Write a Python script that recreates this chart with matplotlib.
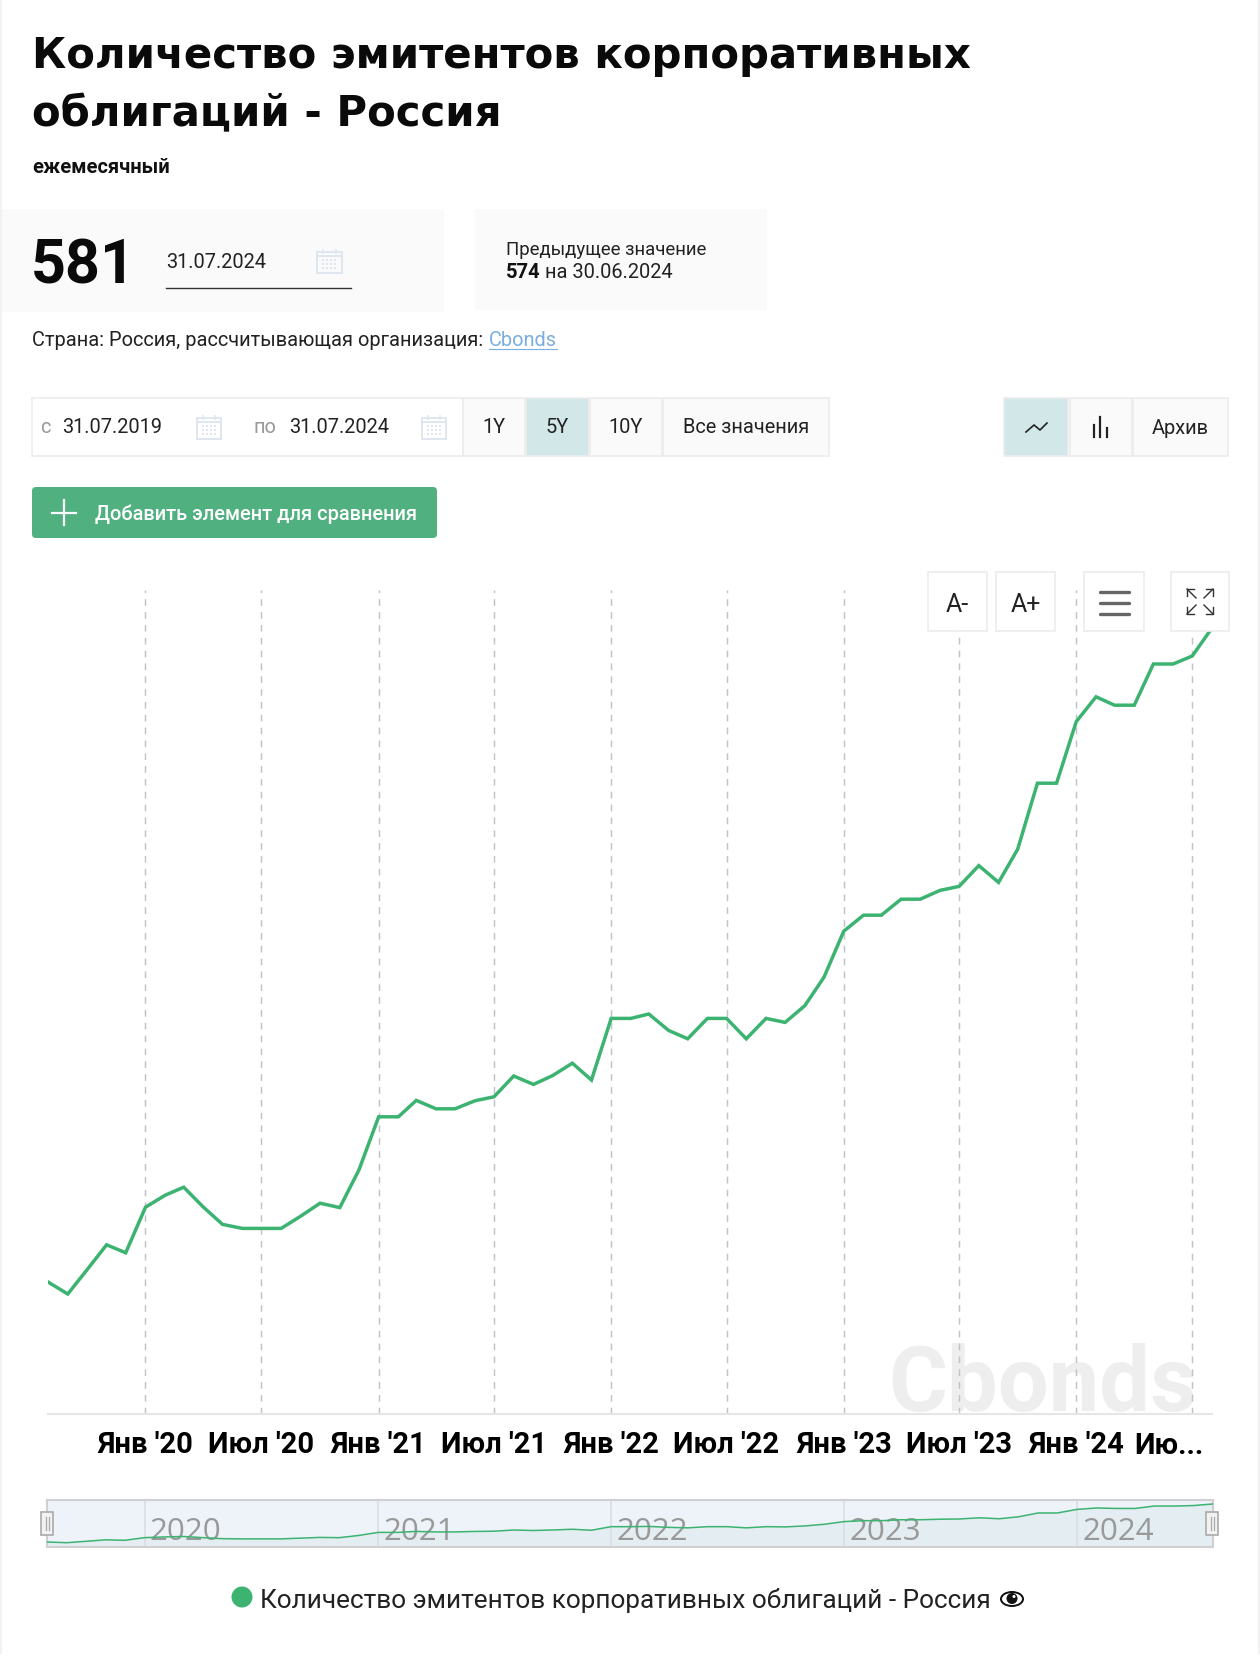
import pandas as pd
import matplotlib
matplotlib.use('Agg')
import matplotlib.pyplot as plt
from matplotlib.patches import Rectangle, FancyBboxPatch, Circle, Ellipse

W, H = 1260, 1673
FONT = 'Roboto'
GREEN = '#3cb371'
BORDER = '#ececec'
PANEL = '#fafafa'
TEAL = '#d2e8e8'

TITLE_LINES = ['Количество эмитентов корпоративных', 'облигаций - Россия']
SERIES_NAME = 'Количество эмитентов корпоративных облигаций - Россия'

# month-end readings, Jul 2019 .. Jul 2024
dates = pd.date_range('2019-07-31', periods=61, freq='ME')
issuers = [417.5, 414.5, 420.5, 426.8, 424.8, 436.2, 439.2, 441.2, 436.2, 431.9,
           430.9, 430.9, 430.9, 434.0, 437.2, 436.1, 445.5, 458.8, 458.8, 462.9,
           460.8, 460.8, 462.8, 463.8, 469.0, 466.9, 469.1, 472.2, 468.0, 483.4,
           483.4, 484.5, 480.4, 478.3, 483.4, 483.4, 478.3, 483.4, 482.4, 486.6,
           493.7, 505.2, 509.2, 509.2, 513.2, 513.2, 515.4, 516.4, 521.6, 517.4,
           525.7, 542.2, 542.2, 557.6, 563.8, 561.7, 561.7, 572.0, 572.0, 574.0,
           581.0]

# the ticks sit on the month-end points just before each label's month
tick_dates = pd.to_datetime(['2019-12-31', '2020-06-30', '2020-12-31', '2021-06-30', '2021-12-31',
                             '2022-06-30', '2022-12-31', '2023-06-30', '2023-12-31', '2024-06-30'])
tick_labels = ["Янв '20", "Июл '20", "Янв '21", "Июл '21", "Янв '22",
               "Июл '22", "Янв '23", "Июл '23", "Янв '24", "Ию..."]
nav_dates = pd.to_datetime(['2019-12-31', '2020-12-31', '2021-12-31', '2022-12-31', '2023-12-31'])
nav_labels = ['2020', '2021', '2022', '2023', '2024']

plt.rcParams['font.family'] = FONT


def axes_px(fig, x0, y0, x1, y1, **kw):
    return fig.add_axes([x0 / W, 1 - y1 / H, (x1 - x0) / W, (y1 - y0) / H], **kw)


def button(ax, x0, y0, x1, y1, fill=PANEL, edge=BORDER, label=None, size=14.4, color='#222222', dy=-2, family=FONT):
    ax.add_patch(Rectangle((x0, y0), x1 - x0, y1 - y0, fc=fill, ec=edge, lw=1.2))
    if label:
        ax.text((x0 + x1) / 2, (y0 + y1) / 2 + dy, label, ha='center', va='center_baseline',
                fontsize=size, color=color, family=family)


def calendar(ax, x0, y0, x1, y1):
    col = '#dfe6ef'
    ax.add_patch(Rectangle((x0, y0 + 2), x1 - x0, y1 - y0 - 2, fc='none', ec=col, lw=1.4))
    ax.plot([x0, x1], [y0 + 6, y0 + 6], color=col, lw=1.4)
    for k in (0.25, 0.75):
        ax.plot([x0 + k * (x1 - x0)] * 2, [y0, y0 + 3], color=col, lw=1.2)
    for i in range(4):
        for j in range(3):
            ax.add_patch(Rectangle((x0 + 5 + i * 4, y0 + 9 + j * 4), 2.4, 2.4, fc=col, ec='none'))


def main():
    fig = plt.figure(figsize=(W / 100, H / 100), dpi=100, facecolor='white')

    # main chart
    ax = axes_px(fig, 48, 590, 1212, 1414)
    ax.set_xlim(dates[0], dates[-1])
    ax.set_ylim(384.5, 590.5)
    ax.annotate('Cbonds', xy=(1197, H - 1411), xycoords='figure pixels', ha='right', va='baseline',
                fontsize=65, fontweight='bold', color='#eeeeee', zorder=1)
    for d in tick_dates:
        ax.axvline(d, color='#c2c2ca', lw=1.05, dashes=(4.6, 4.2), zorder=2)
    ax.plot(dates, issuers, color=GREEN, lw=2.5, zorder=3, solid_joinstyle='miter')
    for s in ('top', 'left', 'right'):
        ax.spines[s].set_visible(False)
    ax.spines['bottom'].set_color('#e6e6e6')
    ax.spines['bottom'].set_linewidth(1.5)
    ax.set_yticks([])
    ax.set_xticks(tick_dates[:-1])
    ax.set_xticklabels(tick_labels[:-1], fontsize=21, fontweight='bold', color='black')
    ax.tick_params(axis='x', length=0, pad=12)
    ax.annotate(tick_labels[-1], xy=(1204, H - 1454), xycoords='figure pixels', ha='right', va='baseline',
                fontsize=21, fontweight='bold', color='black', annotation_clip=False)

    # navigator
    nav = axes_px(fig, 47, 1500, 1213, 1547, facecolor='#eef2f9')
    nav.set_xlim(dates[0], dates[-1])
    nav.set_ylim(396, 598)
    nav.fill_between(dates, issuers, 396, color='#e4edf2', lw=0, zorder=1)
    for d, lab in zip(nav_dates, nav_labels):
        nav.axvline(d, color='#d8dde2', lw=1.1, zorder=2)
        nav.annotate(lab, xy=(d, 396), xytext=(3.8, 4.8), textcoords='offset points', ha='left', va='baseline',
                     fontsize=22.5, color='#999999', family='Open Sans', zorder=2)
    nav.plot(dates, issuers, color=GREEN, lw=1.1, zorder=3)
    nav.set_xticks([])
    nav.set_yticks([])
    for s in nav.spines.values():
        s.set_color('#d0d0d0')
        s.set_linewidth(1.5)

    # page furniture, in reference pixels
    ui = axes_px(fig, 0, 0, W, H, facecolor='none', zorder=5)
    ui.set_xlim(0, W)
    ui.set_ylim(H, 0)
    ui.axis('off')

    ui.plot([1, 1], [0, 1653], color='#f2f2f2', lw=1.5)
    ui.plot([1259, 1259], [0, 1653], color='#f2f2f2', lw=1.5)

    ui.text(32, 68, TITLE_LINES[0], fontsize=30.2, fontweight='bold', family='DejaVu Sans', color='#0a0a0a')
    ui.text(32, 126, TITLE_LINES[1], fontsize=30.2, fontweight='bold', family='DejaVu Sans', color='#0a0a0a')
    ui.text(32, 173, 'ежемесячный', fontsize=14.5, fontweight='bold', color='#111111')

    # current value panel
    ui.add_patch(Rectangle((0, 209), 444, 103, fc=PANEL, ec='none'))
    ui.add_patch(Rectangle((475, 209), 292, 101, fc=PANEL, ec='none'))
    ui.text(31, 283, '581', fontsize=44, fontweight='bold', color='#0a0a0a')
    ui.text(166, 268, '31.07.2024', fontsize=14.4, color='#222222')
    ui.plot([166, 351], [287.5, 287.5], color='#333333', lw=1)
    calendar(ui, 317, 250, 342, 273)
    ui.text(506, 254.5, 'Предыдущее значение', fontsize=13.4, color='#222222')
    ui.text(506, 278, '574', fontsize=14.5, fontweight='bold', color='#111111')
    ui.text(545, 278, 'на 30.06.2024', fontsize=14.4, color='#222222')

    ui.text(32, 346, 'Страна: Россия, рассчитывающая организация:', fontsize=14.4, color='#222222')
    ui.text(489, 346, 'Cbonds', fontsize=14.4, color='#7aaee0')
    ui.plot([489, 557], [349, 349], color='#7aaee0', lw=0.8)

    # period controls
    button(ui, 32, 398, 463, 456, fill='white')
    ui.text(45, 425, 'с', ha='center', va='center_baseline', fontsize=14.4, color='#999999')
    ui.text(62, 425, '31.07.2019', va='center_baseline', fontsize=14.4, color='#222222')
    calendar(ui, 197, 416, 221, 439)
    ui.text(265, 425, 'по', ha='center', va='center_baseline', fontsize=14.4, color='#999999')
    ui.text(289, 425, '31.07.2024', va='center_baseline', fontsize=14.4, color='#222222')
    calendar(ui, 422, 416, 446, 439)
    button(ui, 463, 398, 525, 456, label='1Y')
    button(ui, 526, 398, 589, 456, fill=TEAL, label='5Y')
    button(ui, 590, 398, 662, 456, label='10Y')
    button(ui, 663, 398, 829, 456, label='Все значения')

    button(ui, 1004, 398, 1068, 456, fill=TEAL)
    ui.plot([1026, 1034, 1040, 1047], [432, 425, 430, 423], color='#222222', lw=1.2)
    button(ui, 1070, 398, 1132, 456)
    for bx, top in zip([1094, 1100, 1107], [425, 417, 428]):
        ui.plot([bx, bx], [437, top], color='#222222', lw=1.6)
    button(ui, 1133, 398, 1228, 456, label='Архив', dy=-1)

    # add-element button
    ui.add_patch(FancyBboxPatch((36, 491), 397, 43, boxstyle='round,pad=4', fc='#51b07f', ec='none'))
    ui.plot([64, 64], [500, 525], color='white', lw=1.6)
    ui.plot([52, 76], [512.5, 512.5], color='white', lw=1.6)
    ui.text(95, 512, 'Добавить элемент для сравнения', va='center_baseline', fontsize=14.4,
            fontweight='medium', color='white')

    # chart corner buttons, drawn over the line
    button(ui, 928, 572, 987, 631, fill='white', label='A-', size=18, dy=1)
    button(ui, 996, 572, 1055, 631, fill='white', label='A+', size=18, dy=1)
    button(ui, 1084, 572, 1144, 631, fill='white')
    for my in (592, 603, 614):
        ui.plot([1100, 1129], [my, my], color='#666666', lw=2.4, solid_capstyle='round')
    button(ui, 1171, 572, 1229, 631, fill='white')
    for tx, ty, sx, sy in [(1187, 589, 1, 1), (1213, 589, -1, 1), (1187, 614, 1, -1), (1213, 614, -1, -1)]:
        ui.plot([tx, tx + sx * 9], [ty, ty + sy * 9], color='#333333', lw=1)
        ui.plot([tx + sx * 7, tx, tx], [ty, ty, ty + sy * 7], color='#333333', lw=1)

    # navigator handles
    for hx in (41, 1206):
        ui.add_patch(Rectangle((hx, 1512), 12, 23, fc='#f2f2f2', ec='#aaaaaa', lw=1.2))
        ui.plot([hx + 4.5, hx + 4.5], [1517, 1530], color='#aaaaaa', lw=0.9)
        ui.plot([hx + 7.5, hx + 7.5], [1517, 1530], color='#aaaaaa', lw=0.9)

    # legend
    ui.add_patch(Ellipse((242, 1597), 21, 21, fc=GREEN, ec='none'))
    ui.text(260, 1608, SERIES_NAME, fontsize=18.78, color='#222222')
    ui.add_patch(Ellipse((1012, 1599), 24, 16, fc='#111111', ec='none'))
    ui.add_patch(Ellipse((1012, 1599), 20, 12, fc='white', ec='none'))
    ui.add_patch(Circle((1012, 1598.5), 5.5, fc='#111111', ec='none'))
    ui.add_patch(Circle((1014, 1596.5), 1.5, fc='white', ec='none'))

    fig.savefig('out.png', dpi=100)
    plt.close(fig)


if __name__ == '__main__':
    main()
